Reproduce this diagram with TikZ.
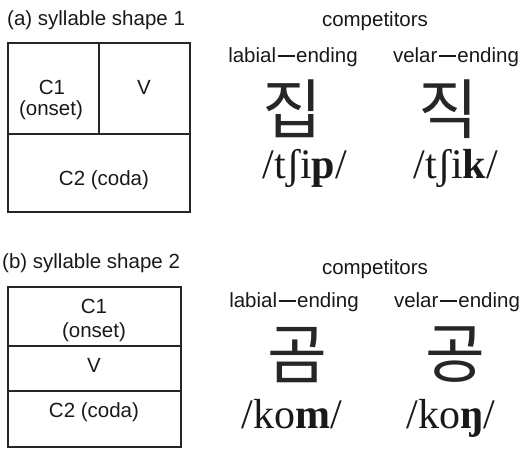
\documentclass[tikz,border=0pt]{standalone}
\usepackage{fontspec}
\setmainfont{Liberation Sans}
\newfontfamily\ipafont{Liberation Serif}
\newfontfamily\krfont{Noto Sans CJK KR}
\newcommand{\longdash}{\hspace{1.5pt}\rule[5.5pt]{17pt}{2pt}\hspace{1.5pt}}
\begin{document}
\begin{tikzpicture}[x=1pt,y=-1pt,
  lbl/.style={inner sep=0pt, anchor=base, font=\fontsize{20.5}{24}\selectfont, text=black!90},
  hdr/.style={inner sep=0pt, anchor=base west, font=\fontsize{20.5}{24}\selectfont, text=black!90},
  hangul/.style={inner sep=0pt, font=\krfont\fontsize{65}{72}\selectfont, text=black!85},
  ipa/.style={inner sep=0pt, anchor=base, font=\ipafont\fontsize{42}{48}\selectfont, text=black!90},
  boxline/.style={draw=black!85, line width=1.3pt}]
\useasboundingbox (0,0) rectangle (523,448);

% ---------- (a) ----------
\node[hdr] (ha) at (7,25) {(a) syllable shape 1};
\coordinate (a1) at (8,43);
\coordinate (a2) at (190,212);
\draw[boxline] (a1) rectangle (a2);
\coordinate (av1) at (99,43);
\coordinate (av2) at (99,134);
\coordinate (ah1) at (8,134);
\coordinate (ah2) at (190,134);
\draw[boxline] (av1) -- (av2);
\draw[boxline] (ah1) -- (ah2);
\node[lbl] (ac1) at (52,94) {C1};
\node[lbl] (aon) at (51,115) {(onset)};
\node[lbl] (av) at (144,94) {V};
\node[lbl] (ac2) at (104,185) {C2 (coda)};

\node[lbl] (comp1) at (375,26) {competitors};
\node[lbl] (lab1) at (293,62) {labial\longdash ending};
\node[lbl] (vel1) at (456,62) {velar\longdash ending};
\node[hangul] (jip) at (292,109) {집};
\node[hangul] (jik) at (448,109) {직};
\node[ipa] (tjip) at (305,178) {/tʃi\textbf{p}/};
\node[ipa] (tjik) at (456,178) {/tʃi\textbf{k}/};

% ---------- (b) ----------
\node[hdr] (hb) at (2,268) {(b) syllable shape 2};
\coordinate (b1) at (8,287);
\coordinate (b2) at (181,447);
\draw[boxline] (b1) rectangle (b2);
\coordinate (bh1) at (8,346);
\coordinate (bh2) at (181,346);
\coordinate (bh3) at (8,391);
\coordinate (bh4) at (181,391);
\draw[boxline] (bh1) -- (bh2);
\draw[boxline] (bh3) -- (bh4);
\node[lbl] (bc1) at (94,313) {C1};
\node[lbl] (bon) at (94,337) {(onset)};
\node[lbl] (bv) at (94,372) {V};
\node[lbl] (bc2) at (94,417) {C2 (coda)};

\node[lbl] (comp2) at (375,274) {competitors};
\node[lbl] (lab2) at (294,307) {labial\longdash ending};
\node[lbl] (vel2) at (457,307) {velar\longdash ending};
\node[hangul] (gom) at (297,355) {곰};
\node[hangul] (gong) at (455,355) {공};
\node[ipa] (kom) at (292,428) {/ko\textbf{m}/};
\node[ipa] (kong) at (451,428) {/ko\textbf{ŋ}/};
\end{tikzpicture}
\end{document}
